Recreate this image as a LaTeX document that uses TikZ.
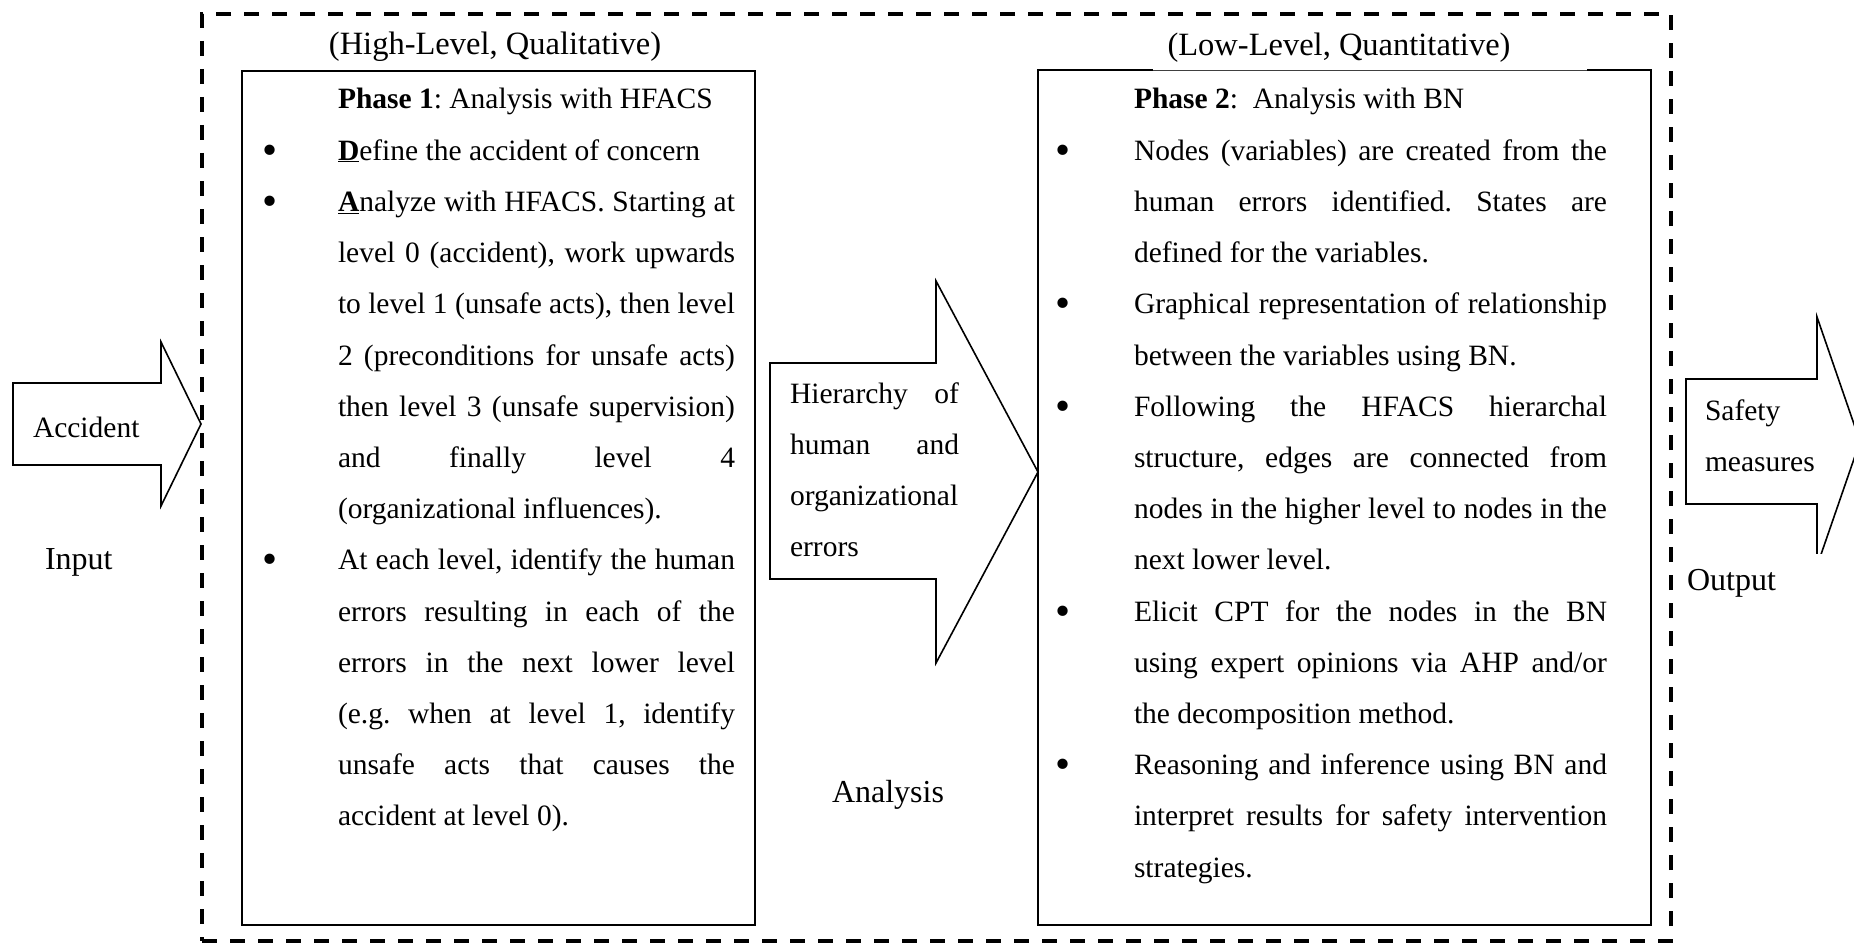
\documentclass[tikz,border=0pt]{standalone}
\usepackage{fontspec}
\setmainfont{Liberation Serif}
\newcommand\mainfs{\fontsize{29.5}{51.2}\selectfont\frenchspacing}
\newcommand\labelfs{\fontsize{32}{40}\selectfont}
\newcommand\headfs{\fontsize{32.5}{40}\selectfont}
% bullet hung in the left margin of a list paragraph
\newcommand\bul[1]{\par\noindent\llap{\raisebox{-4pt}{\fontsize{43}{0}\selectfont\textbullet}\hspace{#1}}}
\begin{document}
\begin{tikzpicture}[x=1pt,y=-1pt,
  every node/.style={inner sep=0pt, outer sep=0pt, font=\mainfs},
  phasebox/.style={draw, line width=1.8pt, anchor=north west},
  body/.style={anchor=base west, align=justify, inner sep=0pt},
  tag/.style={anchor=base west, font=\labelfs},
  blockarrow/.style={draw, line width=1.6pt, fill=white, line join=miter},
  frame/.style={draw, line width=3.6pt, dash pattern=on 15pt off 13pt, anchor=north west}]
\useasboundingbox (0,0) rectangle (1854,947);

% outer dashed frame around the two phases
\node[frame, minimum width=1469pt, minimum height=927pt] (frame) at (202,14) {};

% phase boxes
\node[phasebox, minimum width=513pt, minimum height=854pt] (boxone) at (242,71) {};
\node[phasebox, minimum width=613pt, minimum height=855pt] (boxtwo) at (1038,70) {};
% the heading of phase 2 sits over a thinner stretch of the top edge
\draw[white, line width=2.2pt] (1153,70) -- (1587,70);
\draw[black!75, line width=0.8pt] (1153,70) -- (1587,70);

% headings
\node[anchor=base, font=\headfs] (headone) at (495,55) {(High-Level, Qualitative)};
\node[anchor=base, font=\headfs] (headtwo) at (1339,56) {(Low-Level, Quantitative)};

% phase 1 content
\node[body, text width=397pt] (textone) at (338,109) {%
\textbf{Phase 1}: Analysis with HFACS
\bul{60.5pt}\underline{\textbf{D}}efine the accident of concern
\bul{60.5pt}\underline{\textbf{A}}nalyze with HFACS. Starting at\linebreak
level 0 (accident), work upwards\linebreak
to level 1 (unsafe acts), then level\linebreak
2 (preconditions for unsafe acts)\linebreak
then level 3 (unsafe supervision)\linebreak
and finally level 4\linebreak
(organizational influences).
\bul{60.5pt}At each level, identify the human\linebreak
errors resulting in each of the\linebreak
errors in the next lower level\linebreak
(e.g. when at level 1, identify\linebreak
unsafe acts that causes the\linebreak
accident at level 0).\par};

% phase 2 content
\node[body, text width=473pt] (texttwo) at (1134,109) {%
\textbf{Phase 2}:\ \ Analysis with BN
\bul{63.5pt}Nodes (variables) are created from the\linebreak
human errors identified. States are\linebreak
defined for the variables.
\bul{63.5pt}Graphical representation of relationship\linebreak
between the variables using BN.
\bul{63.5pt}Following the HFACS hierarchal\linebreak
structure, edges are connected from\linebreak
nodes in the higher level to nodes in the\linebreak
next lower level.
\bul{63.5pt}Elicit CPT for the nodes in the BN\linebreak
using expert opinions via AHP and/or\linebreak
the decomposition method.
\bul{63.5pt}Reasoning and inference using BN and\linebreak
interpret results for safety intervention\linebreak
strategies.\par};

% input arrow
\draw[blockarrow] (13,383) -- (161,383) -- (161,342) -- (201,424)
  -- (161,506) -- (161,465) -- (13,465) -- cycle;
\node[anchor=base west] (accident) at (33,437) {Accident};
\node[tag] (input) at (45,569) {Input};

% analysis arrow between the phases
\draw[blockarrow] (770,363) -- (936,363) -- (936,281) -- (boxtwo.west |- 0,472)
  -- (936,663) -- (936,579) -- (770,579) -- cycle;
\node[body, text width=169pt] (hier) at (790,403) {Hierarchy of\linebreak
human and\linebreak organizational\linebreak errors\par};
\node[tag] (analysis) at (832,802) {Analysis};

% output arrow, running off the right edge
\begin{scope}
\clip (1600,0) rectangle (1854,553);
\draw[blockarrow] (1686,379) -- (1817,379) -- (1817,317) -- (1860,441.5)
  -- (1817,566) -- (1817,504) -- (1686,504) -- cycle;
\end{scope}
\node[body, text width=120pt, align=left] (safety) at (1705,420) {Safety\\measures};
\node[tag] (output) at (1687,590) {Output};
\end{tikzpicture}
\end{document}
